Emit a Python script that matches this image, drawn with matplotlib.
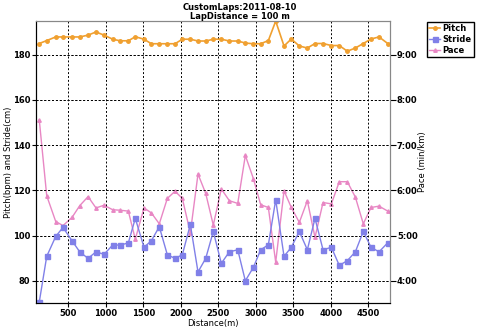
import numpy as np
import matplotlib.pyplot as plt
from matplotlib.ticker import FuncFormatter

# distancia acumulada de cada vuelta [m]
dist = [113, 212, 332, 429, 549, 652, 763, 869, 976, 1092, 1189, 1300, 1393, 1509, 1607,
        1713, 1820, 1923, 2020, 2127, 2229, 2332, 2433, 2540, 2647, 2759, 2860, 2967, 3065, 3167,
        3265, 3376, 3473, 3580, 3687, 3789, 3896, 4007, 4113, 4220, 4327, 4433, 4536, 4643, 4759]

# pitch [bpm]
pitch = [184.9, 186.2, 187.8, 187.8, 187.8, 187.8, 188.6, 190.0, 188.6, 186.8, 186.1, 186.1, 187.9, 186.8, 184.8,
         184.8, 184.8, 184.8, 186.8, 186.8, 186.0, 186.0, 186.8, 186.8, 186.0, 186.0, 185.1, 184.8, 184.8, 186.2,
         194.8, 183.8, 186.9, 183.8, 182.9, 184.9, 184.9, 184.0, 184.0, 181.5, 182.9, 184.9, 186.9, 187.8, 184.9]

# stride [cm]
stride = [70.7, 90.8, 99.6, 103.6, 97.7, 92.8, 89.9, 92.8, 91.7, 95.8, 95.8, 96.7, 107.6, 94.8, 97.7,
          103.9, 91.5, 89.9, 91.5, 104.9, 83.9, 89.9, 101.8, 87.7, 92.8, 93.7, 80.0, 85.9, 93.7, 95.9,
          115.8, 90.8, 94.8, 101.8, 93.7, 107.6, 93.7, 94.8, 86.8, 88.9, 92.8, 101.8, 94.8, 92.8, 96.8]

# pace [min/km]
pace = [7.55, 5.88, 5.31, 5.22, 5.40, 5.66, 5.86, 5.61, 5.67, 5.57, 5.56, 5.54, 4.92, 5.61, 5.50,
        5.26, 5.82, 5.98, 5.82, 5.06, 6.36, 5.93, 5.23, 6.03, 5.77, 5.71, 6.77, 6.26, 5.68, 5.62,
        4.41, 5.99, 5.62, 5.29, 5.77, 4.96, 5.73, 5.70, 6.19, 6.19, 5.85, 5.26, 5.62, 5.65, 5.54]

c_pitch = '#F0A030'
c_stride = '#8080E8'
c_pace = '#E887C4'

plt.rcParams['font.family'] = 'DejaVu Sans'
plt.rcParams['font.weight'] = 'bold'
fs = 6

fig = plt.figure(figsize=(4.8, 3.28), dpi=100)
ax = fig.add_axes([0.075, 0.075, 0.7375, 0.862])
ax2 = ax.twinx()

l1, = ax.plot(dist, pitch, '-o', color=c_pitch, ms=2.5, lw=1.2, label='Pitch')
l2, = ax.plot(dist, stride, '-s', color=c_stride, ms=3.6, lw=1.0, label='Stride')
l3, = ax2.plot(dist, pace, '-^', color=c_pace, ms=2.5, lw=1.0, label='Pace')

ax.set_xlim(69, 4789)
ax.set_ylim(70, 195)
ax2.set_ylim(3.5, 9.75)
ax.set_xticks(np.arange(500, 4501, 500))
ax.set_yticks(np.arange(80, 181, 20))
ax2.set_yticks(np.arange(4, 10, 1))
ax2.yaxis.set_major_formatter(FuncFormatter(lambda v, p: '%d:00' % v))

ax.grid(True, color='black', ls=(0, (2, 2)), lw=0.7)
ax2.grid(False)
ax2.set_zorder(ax.get_zorder() - 1)
ax.patch.set_visible(False)
# lineas de la escala derecha
for v in range(4, 10):
    ax2.axhline(v, color='black', ls=(0, (2, 2)), lw=0.7, zorder=0)

ax.tick_params(length=3, pad=1, labelsize=fs)
ax2.tick_params(length=4, pad=1, labelsize=fs)
for sp in ['top', 'right']:
    ax.spines[sp].set_color('#888888')
    ax2.spines[sp].set_color('#888888')

ax.set_xlabel('Distance(m)', fontsize=fs, labelpad=1)
ax.set_ylabel('Pitch(bpm) and Stride(cm)', fontsize=fs)
ax.yaxis.set_label_coords(-0.065, 0.5)
ax2.set_ylabel('Pace (min/km)', fontsize=fs)
ax2.yaxis.set_label_coords(1.08, 0.5)

fig.text(0.5, 0.99, 'CustomLaps:2011-08-10', ha='center', va='top', fontsize=fs, weight='bold')
fig.text(0.5, 0.962, 'LapDistance = 100 m', ha='center', va='top', fontsize=fs, weight='bold')

fig.legend([l1, l2, l3], ['Pitch', 'Stride', 'Pace'], loc='upper left',
           bbox_to_anchor=(0.89, 0.932), fontsize=fs, frameon=True, fancybox=False,
           edgecolor='black', handlelength=1.3, handletextpad=0.3, borderpad=0.25,
           labelspacing=0.2, borderaxespad=0, framealpha=1)

fig.savefig('out.png', dpi=100)
